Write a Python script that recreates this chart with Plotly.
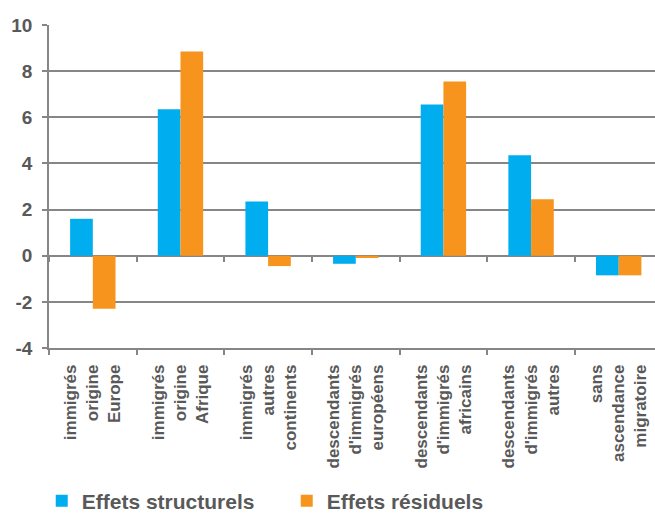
import plotly.graph_objects as go

# Categories (multi-line labels) and the two effect series
categories = [
    "immigrés<br>origine<br>Europe",
    "immigrés<br>origine<br>Afrique",
    "immigrés<br>autres<br>continents",
    "descendants<br>d'immigrés<br>européens",
    "descendants<br>d'immigrés<br>africains",
    "descendants<br>d'immigrés<br>autres",
    "sans<br>ascendance<br>migratoire",
]
effets_structurels = [1.6, 6.35, 2.35, -0.35, 6.55, 4.35, -0.85]
effets_residuels = [-2.3, 8.85, -0.45, -0.1, 7.55, 2.45, -0.85]
y_ticks = [-4, -2, 0, 2, 4, 6, 8, 10]
y_tick_labels = ["-4", "-2", "0", "2", "4", "6", "8", "10"]

BLUE = "#00AEEF"
ORANGE = "#F7941D"
GRID = "#868686"
TEXT = "#595959"
FONT = "Liberation Sans, Arial, sans-serif"

fig = go.Figure()
fig.add_trace(go.Bar(x=categories, y=effets_structurels, name="Effets structurels",
                     marker=dict(color=BLUE, line=dict(width=0))))
fig.add_trace(go.Bar(x=categories, y=effets_residuels, name="Effets résiduels",
                     marker=dict(color=ORANGE, line=dict(width=0))))
# invisible trace carrying the secondary category axis (ticks along the zero line)
fig.add_trace(go.Scatter(x=categories, y=[None] * len(categories), xaxis="x2",
                         showlegend=False, hoverinfo="skip"))

x_range = [-0.5, 6.414]
y_min, y_max = y_ticks[0], y_ticks[-1]

fig.update_layout(
    width=655, height=514,
    margin=dict(l=49, r=0, t=25, b=166, autoexpand=False),
    paper_bgcolor="white", plot_bgcolor="white",
    barmode="group", bargap=0.482, bargroupgap=0,
    font=dict(family=FONT, color=TEXT, weight="bold"),
    showlegend=True,
    legend=dict(orientation="h", x=-0.012, xanchor="left", y=-0.474, yanchor="middle",
                font=dict(size=21, family=FONT, color=TEXT, weight="bold"),
                itemwidth=30, entrywidth=200, entrywidthmode="pixels",
                tracegroupgap=0, traceorder="normal"),
    xaxis=dict(
        type="category", range=x_range, automargin=False,
        tickson="boundaries", ticks="outside", ticklen=5, tickwidth=1.5, tickcolor=GRID,
        showline=True, linecolor=GRID, linewidth=1.5,
        showgrid=False, tickangle=-90,
        tickfont=dict(size=17, family=FONT, color=TEXT, weight="bold"),
        ticklabelstandoff=8,
    ),
    xaxis2=dict(
        type="category", overlaying="x", matches="x", anchor="free",
        position=(0 - y_min) / (y_max - y_min),
        tickson="boundaries", ticks="outside", ticklen=5, tickwidth=1.5, tickcolor=GRID,
        showline=False, showgrid=False, showticklabels=False,
    ),
    yaxis=dict(
        range=[y_min, y_max], tickvals=y_ticks, ticktext=y_tick_labels, automargin=False,
        ticks="outside", ticklen=5, tickwidth=1.5, tickcolor=GRID,
        showline=True, linecolor=GRID, linewidth=1.5,
        showgrid=True, gridcolor=GRID, gridwidth=1.5,
        zeroline=True, zerolinecolor=GRID, zerolinewidth=1.5,
        tickfont=dict(size=19, family=FONT, color=TEXT, weight="bold"),
        ticklabelstandoff=6,
    ),
)

fig.write_html("out.html")
